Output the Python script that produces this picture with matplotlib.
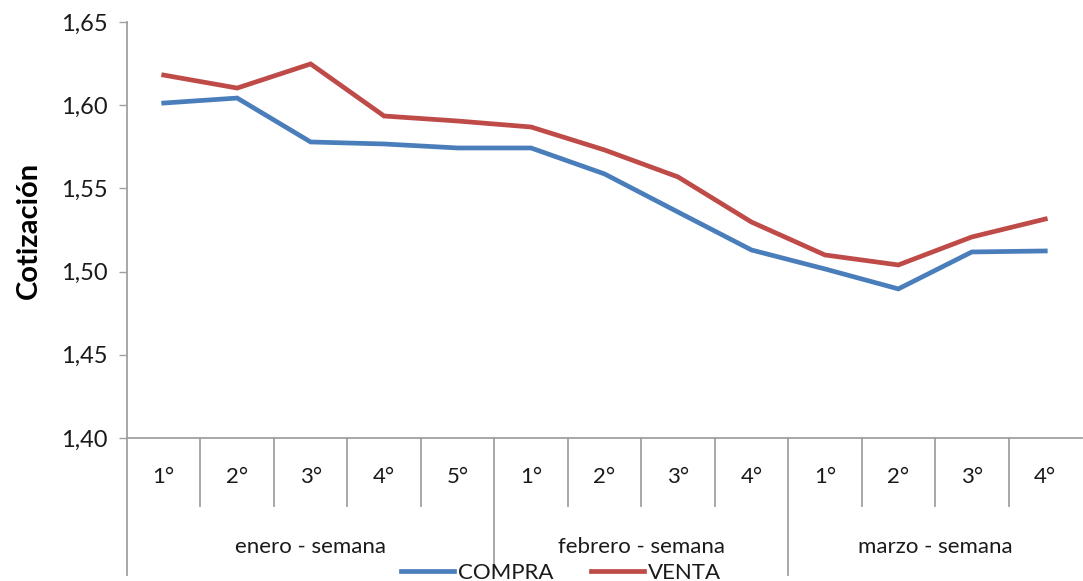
import numpy as np
import matplotlib.pyplot as plt
from matplotlib.ticker import FuncFormatter, MultipleLocator
from matplotlib.lines import Line2D

weeks = ["1°", "2°", "3°", "4°", "5°",
         "1°", "2°", "3°", "4°",
         "1°", "2°", "3°", "4°"]
groups = ["enero - semana", "febrero - semana", "marzo - semana"]
group_sizes = [5, 4, 4]

compra = [1.6013, 1.6043, 1.5779, 1.5767, 1.5743, 1.5743, 1.5587,
          1.5358, 1.5130, 1.5016, 1.4896, 1.5118, 1.5124]
venta = [1.6181, 1.6103, 1.6248, 1.5935, 1.5905, 1.5869, 1.5731,
         1.5569, 1.5298, 1.5100, 1.5040, 1.5208, 1.5316]

BLUE = "#4A7EBB"
RED = "#BE4B48"
GRAY = "#A0A0A0"
TXT = "#1a1a1a"
FONT = "Lato"

plt.rcParams["font.family"] = [FONT, "DejaVu Sans"]

W, H = 1083, 581
fig = plt.figure(figsize=(W / 100, H / 100), dpi=100)
ax = fig.add_axes([127 / W, 1 - 438 / H, (1082 - 127) / W, (438 - 22) / H])

x = np.arange(len(weeks)) + 0.5
ax.plot(x, compra, color=BLUE, lw=3.4, solid_joinstyle="miter", label="COMPRA")
ax.plot(x, venta, color=RED, lw=3.4, solid_joinstyle="miter", label="VENTA")

ax.set_xlim(0, len(weeks))
ax.set_ylim(1.40, 1.65)
ax.yaxis.set_major_locator(MultipleLocator(0.05))
ax.yaxis.set_major_formatter(FuncFormatter(lambda v, _: f"{v:.2f}".replace(".", ",")))
ax.tick_params(axis="y", direction="out", length=6, width=1, color=GRAY,
               labelsize=17, pad=8, labelcolor=TXT)
ax.set_xticks([])

for s in ["top", "right"]:
    ax.spines[s].set_visible(False)
for s in ["left", "bottom"]:
    ax.spines[s].set_color(GRAY)
    ax.spines[s].set_linewidth(1.3)

ax.set_ylabel("Cotización", fontsize=21, fontweight="bold", labelpad=14)

# multi-level category axis
ah = 438 - 22
short = -68 / ah
long_ = -137 / ah
bounds = np.cumsum(group_sizes)
trans = ax.get_xaxis_transform()
ax.plot([0, 0], [0, long_], color=GRAY, lw=1.3, transform=trans, clip_on=False)
for i in range(1, len(weeks)):
    y1 = long_ if i in bounds else short
    ax.plot([i, i], [0, y1], color=GRAY, lw=1.3, transform=trans, clip_on=False)

for xi, lab in zip(x, weeks):
    ax.text(xi, -39 / ah, lab, transform=trans, ha="center", va="center",
            fontsize=16, color=TXT)

start = 0
for g, n in zip(groups, group_sizes):
    ax.text(start + n / 2, -109 / ah, g, transform=trans, ha="center",
            va="center", fontsize=16, color=TXT)
    start += n

handles = [Line2D([], [], color=BLUE, lw=3.4), Line2D([], [], color=RED, lw=3.4)]
fig.legend(handles, ["COMPRA", "VENTA"], loc="center", ncol=2,
           bbox_to_anchor=(561 / W, 8 / H), frameon=False, fontsize=16,
           handlelength=2.4, handletextpad=0.15, columnspacing=1.7,
           borderpad=0, labelcolor=TXT)

fig.savefig("out.png", dpi=100)
